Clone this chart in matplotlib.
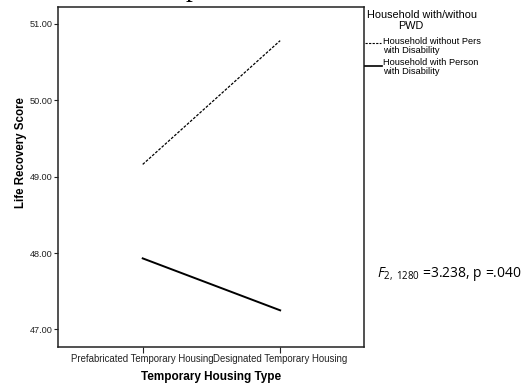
import matplotlib
matplotlib.use("Agg")
import matplotlib.pyplot as plt

# mean life recovery scores by housing type and PWD status
housing_types = ["Prefabricated Temporary Housing", "Designated Temporary Housing"]
without_pwd = [49.16, 50.78]
with_pwd = [47.93, 47.25]
y_ticks = [47.0, 48.0, 49.0, 50.0, 51.0]

plt.rcParams['font.family'] = ['Liberation Sans', 'DejaVu Sans']
plt.rcParams['mathtext.fontset'] = 'custom'
plt.rcParams['mathtext.it'] = 'Open Sans:italic'
plt.rcParams['mathtext.rm'] = 'Open Sans'

fig = plt.figure(figsize=(5.29, 3.85), dpi=100)
ax = fig.add_axes([0.1087, 0.0987, 0.5794, 0.8831])

x = list(range(len(housing_types)))
ax.plot(x, without_pwd, color='black', lw=0.9, ls=(0, (2.2, 1.2)))
ax.plot(x, with_pwd, color='black', lw=1.4)

ax.set_xlim(-0.62, 1.61)
ax.set_ylim(46.77, 51.22)
ax.set_yticks(y_ticks)
ax.set_yticklabels(["%.2f" % v for v in y_ticks], fontsize=6.6)
ax.set_xticks(x)
ax.set_xticklabels(housing_types, fontsize=6.9)
ax.tick_params(axis='y', direction='out', length=3, width=0.8, pad=0.5, colors='#222222')
ax.tick_params(axis='x', direction='out', length=4, width=0.8, pad=1, colors='#222222')
for s in ax.spines.values():
    s.set_linewidth(1.1)
    s.set_color('#222222')

ax.set_xlabel("Temporary Housing Type", fontsize=8.5, fontweight='bold', labelpad=5)
ax.set_ylabel("Life Recovery Score", fontsize=8.3, fontweight='bold')
ax.yaxis.set_label_coords(-0.099, 0.573)

# legend drawn by hand next to the right spine
def px(xp, yp):
    return xp / 529, 1 - yp / 385

fig.text(*px(422, 15), "Household with/withou", fontsize=7.8, ha='center', va='center')
fig.text(*px(411, 26), "PWD", fontsize=7.8, ha='center', va='center')
fig.lines.append(plt.Line2D([365 / 529, 381 / 529], [1 - 42.7 / 385] * 2, transform=fig.transFigure,
                            color='black', lw=0.8, ls=(0, (2, 1.2))))
fig.lines.append(plt.Line2D([365 / 529, 382 / 529], [1 - 65.7 / 385] * 2, transform=fig.transFigure,
                            color='black', lw=1.2))
fig.text(*px(383, 46), "Household without Pers\nwith Disability", fontsize=6.7,
         ha='left', va='center', linespacing=0.95)
fig.text(*px(383, 67), "Household with Person\nwith Disability", fontsize=6.7,
         ha='left', va='center', linespacing=0.95)

fig.text(*px(377, 277), r"$\mathit{F}_{\mathit{2,\ 1280}}$ =3.238, p =.040",
         fontsize=10, family='Open Sans', ha='left', va='baseline')

# title sitting above the figure edge
fig.text(*px(186, -3.5), "p", fontsize=20, family='Liberation Serif', ha='left', va='baseline')

fig.savefig("out.png", dpi=100)
